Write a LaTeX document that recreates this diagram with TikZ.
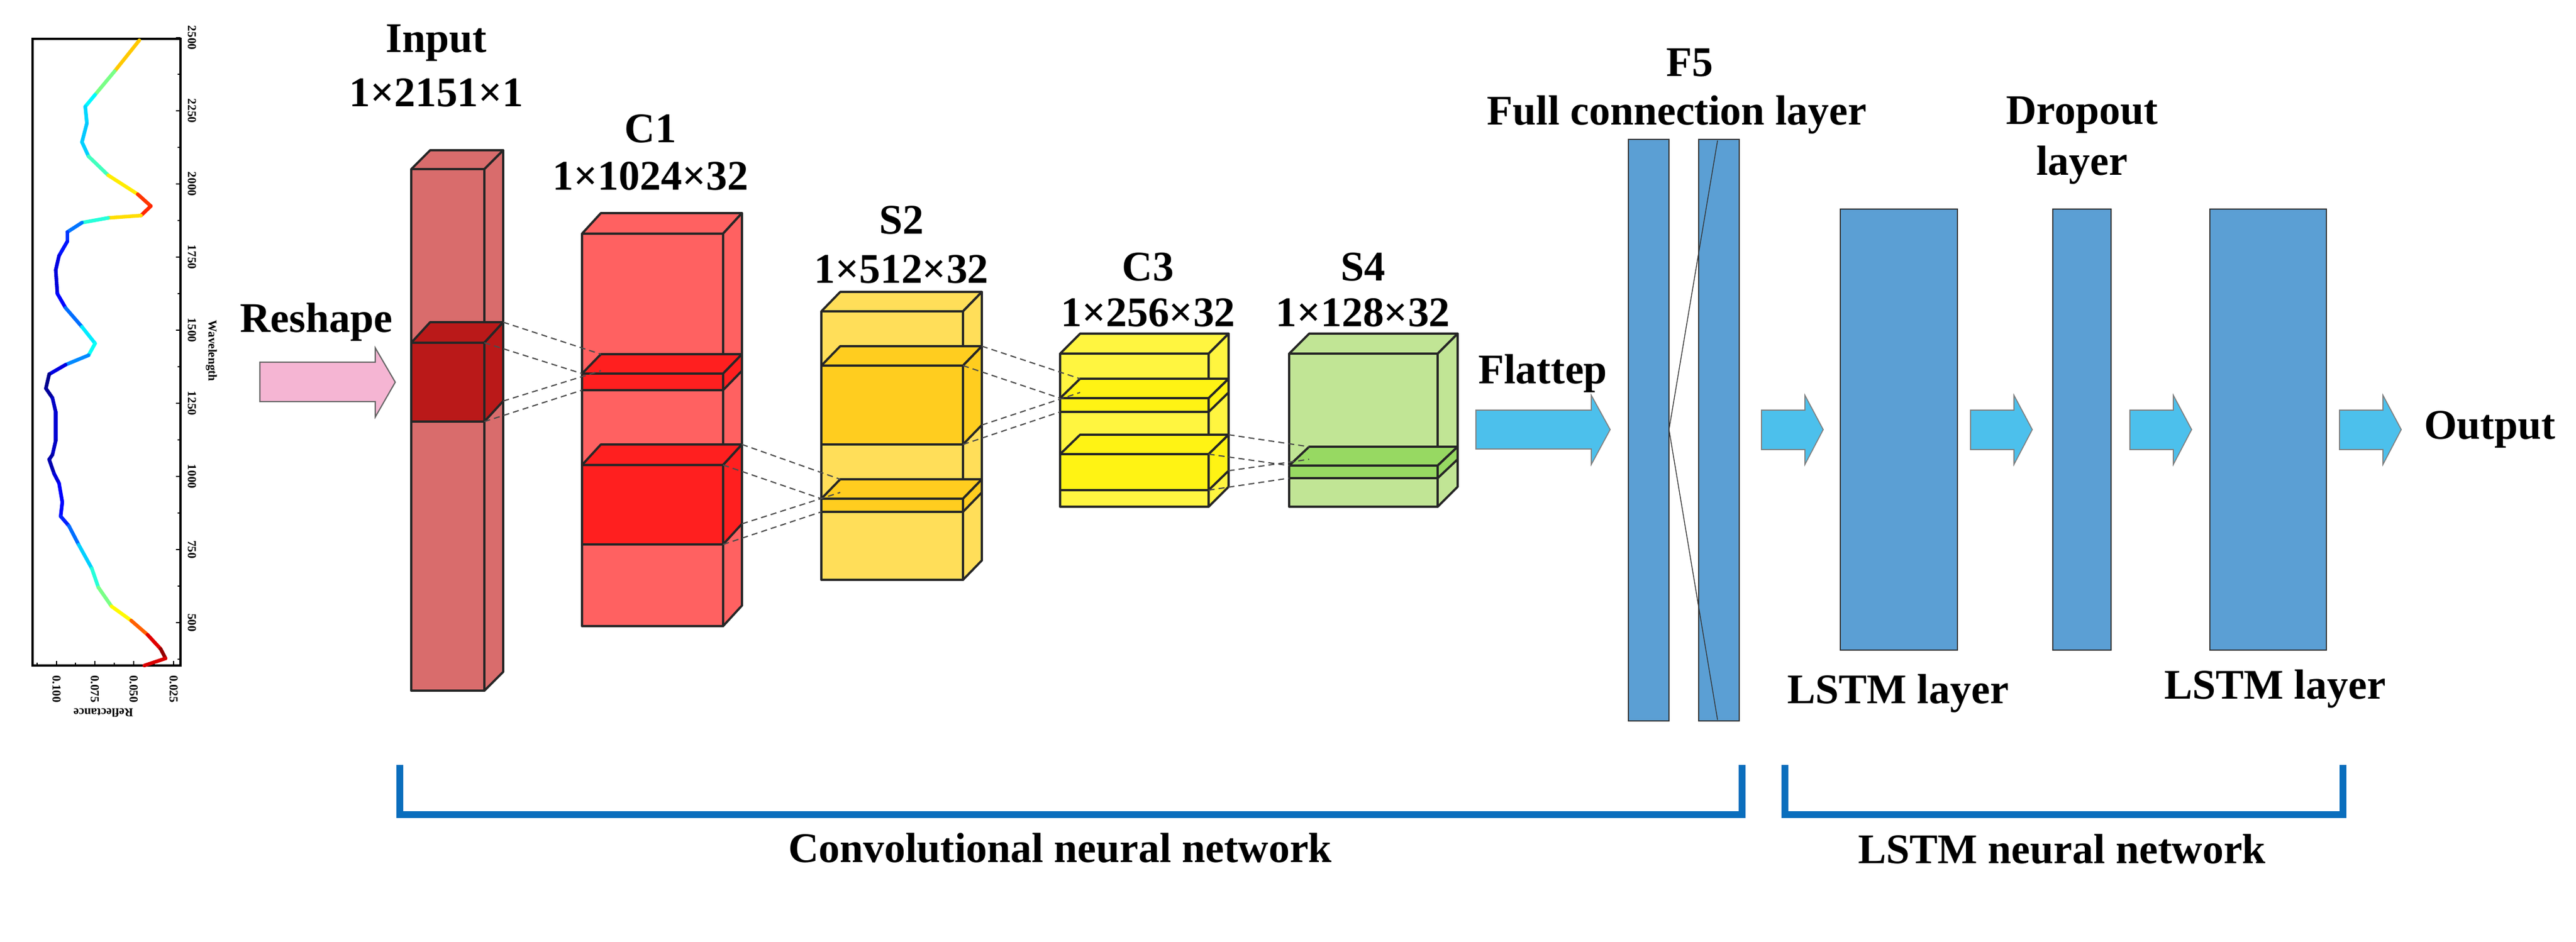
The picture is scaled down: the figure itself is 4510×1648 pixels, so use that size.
\documentclass[tikz,border=0pt]{standalone}
\usepackage{fontspec}
\setmainfont{Liberation Serif}
\begin{document}
\begin{tikzpicture}[x=0.01cm,y=-0.01cm,
  lab/.style={font=\fontsize{21}{25}\selectfont\bfseries,inner sep=0pt},
  tick/.style={font=\fontsize{6}{7}\selectfont\bfseries,inner sep=0pt},
  box/.style={draw=black!85,line width=1.1pt,line join=round},
  conn/.style={densely dashed,black!70,line width=0.6pt},
  barr/.style={draw=black!80,line width=0.6pt,fill=fcblue,inner sep=0pt},
  flow/.style={draw=black!50,line width=0.5pt,fill=arrcyan},
  brk/.style={draw=brkblue,line width=3.2pt}]
\definecolor{fcblue}{HTML}{5B9FD4}
\definecolor{arrcyan}{HTML}{4CC0EC}
\definecolor{brkblue}{HTML}{0A6EBD}
\definecolor{pinkarr}{HTML}{F5B5D3}
\useasboundingbox (0,0) rectangle (4510,1648);
\fill[white] (0,0) rectangle (4510,1648);
% cuboid macro: name, x1, x2, ytop, ybot, dx, dy, fill
\newcommand\mycub[8]{%
  \coordinate (#1-ftl) at (#2,#4); \coordinate (#1-ftr) at (#3,#4);
  \coordinate (#1-fbl) at (#2,#5); \coordinate (#1-fbr) at (#3,#5);
  \coordinate (#1-btl) at (#2+#6,#4-#7); \coordinate (#1-btr) at (#3+#6,#4-#7);
  \coordinate (#1-bbr) at (#3+#6,#5-#7); \coordinate (#1-bbl) at (#2+#6,#5-#7);
  \draw[box,fill=#8] (#1-ftl) rectangle (#1-fbr);
  \draw[box,fill=#8] (#1-ftl) -- (#1-btl) -- (#1-btr) -- (#1-ftr) -- cycle;
  \draw[box,fill=#8] (#1-ftr) -- (#1-btr) -- (#1-bbr) -- (#1-fbr) -- cycle;}
\newcommand\myconn[2]{%
  \draw[conn] (#1-btr) -- (#2-btl); \draw[conn] (#1-ftr) -- (#2-ftl);
  \draw[conn] (#1-bbr) -- (#2-bbl); \draw[conn] (#1-fbr) -- (#2-fbl);}
% ---------- spectrum plot ----------
\draw[line width=1.3pt] (57,68) rectangle (316,1165);
\foreach \w [count=\i from 0] in {2500,2250,2000,1750,1500,1250,1000,750,500}{
  \pgfmathsetmacro\yy{66+\i*128}
  \node[tick,rotate=-90] (wl\i) at (336,\yy) {\w};
  \draw[line width=0.6pt] (316,\yy) -- (308,\yy);
  \draw[line width=0.6pt] (316,\yy+64) -- (311,\yy+64);
}
\foreach \r/\xx [count=\i] in {0.100/99,0.075/166,0.050/234,0.025/304}{
  \node[tick,rotate=-90] (rl\i) at (\xx,1206) {\r};
  \draw[line width=0.6pt] (\xx,1165) -- (\xx,1157);
  \draw[line width=0.6pt] (\xx-34,1165) -- (\xx-34,1160);
}
\node[tick,rotate=-90] (wlab) at (370,614) {Wavelength};
\node[tick,rotate=180] (rlab) at (181,1248) {Reflectance};
\foreach \x/\y [remember=\x as \px (initially 425), remember=\y as \py (initially 85)] in
 {350/150,290/200,260/225,265/260,250/300,270/330,330/370,420/410,460/435,430/455,330/460,250/470,205/490,205/510,180/540,170/570,175/620,200/650,250/690,290/725,270/750,200/770,150/790,140/820,160/840,170/870,170/930,160/960,150/970,165/1000,180/1020,190/1060,185/1090,210/1110,240/1150,280/1200,300/1240,340/1280,400/1310,450/1340,490/1370,505/1390,440/1405}{
  \pgfmathsetmacro\t{max(0,min(1,((\x+\px)/2-140)/365))}
  \pgfmathsetmacro\cr{max(0,min(1,1.5-abs(4*\t-3)))}
  \pgfmathsetmacro\cg{max(0,min(1,1.5-abs(4*\t-2)))}
  \pgfmathsetmacro\cb{max(0,min(1,1.5-abs(4*\t-1)))}
  \definecolor{segc}{rgb}{\cr,\cg,\cb}
  \draw[segc,line width=1.8pt,line cap=round] (\px/1.742,\py/1.206) -- (\x/1.742,\y/1.206);
}
% ---------- reshape arrow ----------
\draw[draw=black!60,line width=0.6pt,fill=pinkarr] (455,634) -- (657,634) -- (657,609) -- (692,669) -- (657,730) -- (657,703) -- (455,703) -- cycle;
\node[lab] (reshape) at (554,564) {Reshape};
% ---------- CNN blocks ----------
\mycub{inp}{720}{848}{296}{1209}{33}{33}{red!50!white!85!black}
\mycub{inps}{720}{848}{600}{738}{33}{36}{red!70!black!90!white}
\mycub{c1}{1019}{1266}{409}{1096}{33}{36}{red!62!white}
\mycub{c1a}{1019}{1266}{654}{683}{33}{34}{red!88!white}
\mycub{c1b}{1019}{1266}{814}{953}{33}{36}{red!88!white}
\mycub{s2}{1438}{1686}{545}{1015}{33}{34}{orange!40!yellow!65!white}
\mycub{s2a}{1438}{1686}{640}{778}{33}{34}{orange!45!yellow!88!white}
\mycub{s2b}{1438}{1686}{873}{896}{33}{34}{orange!45!yellow!88!white}
\mycub{c3}{1856}{2116}{619}{887}{35}{35}{yellow!75!white}
\mycub{c3a}{1856}{2116}{697}{721}{35}{34}{yellow!92!white}
\mycub{c3b}{1856}{2116}{795}{858}{35}{34}{yellow!92!white}
\mycub{s4}{2257}{2517}{619}{887}{35}{35}{green!45!yellow!35!white!90!black}
\mycub{s4a}{2257}{2517}{815}{837}{35}{33}{green!55!yellow!55!white!85!black}
\myconn{inps}{c1a}
\myconn{c1b}{s2b}
\myconn{s2a}{c3a}
\myconn{c3b}{s4a}
\node[lab] (tinp) at (764,75) {Input};
\node[lab] (dinp) at (764,162) {1×2151×1};
\node[lab] (tc1) at (1139,225) {C1};
\node[lab] (dc1) at (1139,308) {1×1024×32};
\node[lab] (ts2) at (1578,385) {S2};
\node[lab] (ds2) at (1578,471) {1×512×32};
\node[lab] (tc3) at (2010,467) {C3};
\node[lab] (dc3) at (2010,547) {1×256×32};
\node[lab] (ts4) at (2386,467) {S4};
\node[lab] (ds4) at (2386,547) {1×128×32};
% ---------- flatten arrow ----------
\draw[flow] (2584,718) -- (2786,718) -- (2786,692) -- (2819,752) -- (2786,813) -- (2786,786) -- (2584,786) -- cycle;
\node[lab] (flat) at (2701,654) {Flattep};
% ---------- F5 ----------
\node[barr,minimum width=0.71cm,minimum height=10.18cm] (f5a) at (2886.5,753) {};
\node[barr,minimum width=0.71cm,minimum height=10.18cm] (f5b) at (3009.5,753) {};
\coordinate (f5m) at (2922,752);
\draw[black!80,line width=0.4pt] (3007,246) -- (f5m) -- (3007,1260);
\node[lab] (tf5) at (2958,110) {F5};
\node[lab] (tfc) at (2936,201) {Full connection layer};
% ---------- LSTM part ----------
\node[barr,minimum width=2.05cm,minimum height=7.72cm] (l1) at (3324.5,752) {};
\node[barr,minimum width=1.02cm,minimum height=7.72cm] (dp) at (3645,752) {};
\node[barr,minimum width=2.04cm,minimum height=7.72cm] (l2) at (3971,752) {};
\foreach \ax/\nm in {3084/a1,3450/a2,3729/a3,4096/a4}{
  \draw[flow] (\ax,718) -- (\ax+76,718) -- (\ax+76,692) -- (\ax+108,752) -- (\ax+76,813) -- (\ax+76,787) -- (\ax,787) -- cycle;
}
\node[lab] (tl1) at (3323,1214) {LSTM layer};
\node[lab] (tdp) at (3645,201) {Dropout};
\node[lab] (tdp2) at (3645,289) {layer};
\node[lab] (tl2) at (3983,1206) {LSTM layer};
\node[lab] (tout) at (4359,752) {Output};
% ---------- brackets ----------
\draw[brk] (700,1339) -- (700,1426) -- (3050,1426) -- (3050,1339);
\draw[brk] (3125,1339) -- (3125,1426) -- (4102,1426) -- (4102,1339);
\node[lab] (tcnn) at (1856,1484) {Convolutional neural network};
\node[lab] (tlstm) at (3610,1486) {LSTM neural network};
\end{tikzpicture}
\end{document}
